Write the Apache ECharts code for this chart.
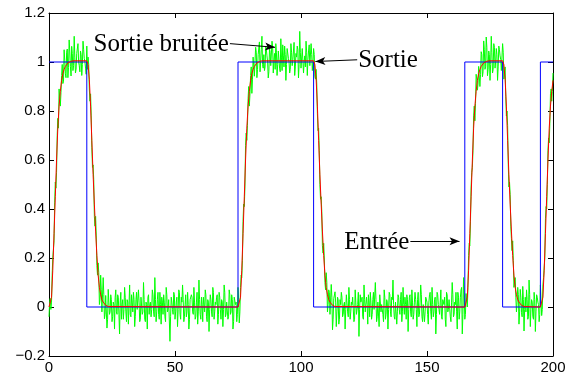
<!DOCTYPE html>
<html>
<head>
<meta charset="utf-8">
<script src="https://cdn.jsdelivr.net/npm/echarts/dist/echarts.min.js"></script>
<style>
  html, body { margin: 0; padding: 0; background: #ffffff; }
  #chart { width: 576px; height: 379px; }
</style>
</head>
<body>
<div id="chart"></div>
<script>
// Input square wave (Entrée): breakpoints of the step signal
const inputT = [0, 15, 15, 75, 75, 105, 105, 165, 165, 180, 180, 195, 195, 200];
const inputY = [1, 1, 0, 0, 1, 1, 0, 0, 1, 1, 0, 0, 1, 1];

// Filtered output (Sortie): samples around each transition
const outputT = [
  0, 0.5, 1, 1.5, 2, 2.5, 3, 3.5, 4, 4.5, 5, 5.5, 6, 6.5, 7, 7.5, 8, 8.5, 9, 9.5, 10,
  15, 15.5, 16, 16.5, 17, 17.5, 18, 18.5, 19, 19.5, 20, 20.5, 21, 21.5, 22, 22.5, 23, 23.5, 24,
  75, 75.5, 76, 76.5, 77, 77.5, 78, 78.5, 79, 79.5, 80, 80.5, 81, 81.5, 82, 82.5, 83, 83.5, 84, 84.5, 85,
  105, 105.5, 106, 106.5, 107, 107.5, 108, 108.5, 109, 109.5, 110, 110.5, 111, 111.5, 112, 112.5, 113, 113.5, 114,
  165, 165.5, 166, 166.5, 167, 167.5, 168, 168.5, 169, 169.5, 170, 170.5, 171, 171.5, 172, 172.5, 173, 173.5, 174, 174.5, 175,
  180, 180.5, 181, 181.5, 182, 182.5, 183, 183.5, 184, 184.5, 185, 185.5, 186, 186.5, 187, 187.5, 188, 188.5, 189,
  195, 195.5, 196, 196.5, 197, 197.5, 198, 198.5, 199, 199.5, 200
];
const outputY = [
  0, 0.005, 0.04, 0.15, 0.30, 0.45, 0.60, 0.73, 0.82, 0.88, 0.925, 0.952, 0.97, 0.982, 0.99, 0.996, 1.0, 1.002, 1.004, 1.005, 1.005,
  1.005, 0.99, 0.93, 0.82, 0.68, 0.54, 0.42, 0.31, 0.21, 0.13, 0.08, 0.05, 0.03, 0.02, 0.012, 0.007, 0.004, 0.002, 0,
  0, 0.005, 0.04, 0.15, 0.30, 0.45, 0.60, 0.73, 0.82, 0.88, 0.925, 0.952, 0.97, 0.982, 0.99, 0.996, 1.0, 1.002, 1.004, 1.005, 1.005,
  1.005, 0.99, 0.93, 0.82, 0.68, 0.54, 0.42, 0.31, 0.21, 0.13, 0.08, 0.05, 0.03, 0.02, 0.012, 0.007, 0.004, 0.002, 0,
  0, 0.005, 0.04, 0.15, 0.30, 0.45, 0.60, 0.73, 0.82, 0.88, 0.925, 0.952, 0.97, 0.982, 0.99, 0.996, 1.0, 1.002, 1.004, 1.005, 1.005,
  1.005, 0.99, 0.93, 0.82, 0.68, 0.54, 0.42, 0.31, 0.21, 0.13, 0.08, 0.05, 0.03, 0.02, 0.012, 0.007, 0.004, 0.002, 0,
  0, 0.005, 0.04, 0.15, 0.30, 0.45, 0.60, 0.73, 0.82, 0.88, 0.925
];

// Noisy output (Sortie bruitée): recorded every 0.25 time units from t = 0
const noisyStart = 0;
const noisyStep = 0.25;
const noisyOutput = [
  // t = 0 .. 10
  -0.04, 0.02, 0.035, -0.01, 0.02, 0.13, 0.20, 0.195, 0.27, 0.425, 0.51, 0.485, 0.55, 0.70, 0.77, 0.73, 0.89, 0.893, 0.82, 0.875,
  0.945, 0.99, 0.912, 0.922, 1.05, 1.007, 0.952, 0.936, 1.04, 1.053, 0.936, 0.978, 1.09, 1.041, 0.982, 0.943, 1.064, 1.034, 0.965, 0.985, 1.105,
  // t = 10.25 .. 15
  1.02, 0.955, 0.97, 1.035, 1.04, 1.075, 1.0, 0.985, 0.96, 1.045, 1.03, 0.945, 0.99, 1.085, 1.05, 1.015, 1.0, 0.975, 0.95, 1.065,
  // t = 15.25 .. 24
  0.97, 1.02, 0.99, 0.89, 0.84, 0.87, 0.78, 0.65, 0.57, 0.58, 0.52, 0.37, 0.33, 0.37, 0.29, 0.17, 0.13, 0.18,
  0.14, 0.01, 0.03, 0.13, 0.07, -0.02, -0.02, 0.12, 0.05, -0.048, -0.03, 0.047, 0.04, -0.086, -0.05, 0.072, 0.02, -0.03,
  // t = 24.25 .. 75
  -0.02, 0.05, 0.03, -0.06, -0.04, 0.02, 0.01, -0.09, 0.04, 0.07, -0.02, -0.03, 0.05, 0.04, -0.03, -0.11, 0.02, 0.06, -0.05, 0.01,
  0.03, -0.05, -0.01, 0.08, 0.04, -0.02, -0.06, 0.03, 0.02, -0.07, 0.01, 0.09, -0.03, -0.04, 0.05, 0.02, -0.02, 0.06, 0.03, -0.08,
  -0.04, 0.03, 0.06, -0.01, -0.01, 0.07, 0.02, -0.06, -0.05, 0.04, 0.04, -0.03, -0.02, 0.1, 0.03, -0.05, -0.06, 0.02, 0.01, -0.09,
  0.04, 0.05, -0.03, 0.01, 0.02, -0.04, -0.01, 0.07, 0.05, -0.02, -0.04, 0.12, 0.03, -0.06, -0.02, 0.03, 0.06, -0.03, -0.05, 0.06,
  0.01, -0.07, 0.04, 0.02, -0.03, 0.05, 0.02, -0.04, -0.06, 0.08, 0.05, -0.02, -0.01, 0.03, 0.03, -0.14, -0.04, 0.04, 0.02, -0.01,
  -0.03, 0.06, 0.05, -0.05, -0.02, 0.02, 0.04, -0.08, -0.01, 0.07, 0.06, -0.03, -0.05, 0.04, 0.02, 0.09, 0.03, -0.06, -0.04, 0.01,
  0.05, -0.04, -0.02, 0.06, 0.01, -0.09, -0.05, 0.03, 0.03, 0.05, 0.04, -0.02, -0.03, 0.08, 0.02, -0.05, -0.04, 0.02, 0.06, -0.07,
  -0.02, 0.11, 0.03, -0.03, -0.05, 0.04, 0.01, -0.06, 0.04, 0.01, -0.02, 0.07, 0.05, -0.04, -0.06, 0.03, 0.02, -0.1, -0.01, 0.05,
  0.03, -0.02, -0.04, 0.08, 0.06, -0.05, -0.02, 0.02, 0.01, 0.04, 0.05, -0.07, -0.03, 0.06, 0.04, -0.01, -0.05, 0.03, 0.02, -0.08,
  -0.01, 0.09, 0.06, -0.04, -0.03, 0.02, 0.02, -0.05, -0.04, 0.07, 0.05, -0.03, -0.02, 0.05, 0.03, -0.09, -0.06, 0.04, 0.04, 0.01,
  0.02, -0.06, -0.03, 0.08,
  // t = 75.25 .. 85
  0.03, -0.065, -0.02, 0.08, 0.13, 0.12, 0.19, 0.35, 0.42, 0.41, 0.49, 0.66, 0.71, 0.68, 0.74, 0.85, 0.90, 0.82, 0.87, 0.945,
  0.98, 0.872, 0.93, 1.02, 1.02, 0.942, 0.95, 1.06, 1.04, 0.936, 0.97, 1.03, 1.03, 1.082, 0.96, 0.954, 1.05, 1.105, 0.99, 0.975,
  // t = 85.25 .. 105
  1.03, 0.965, 0.98, 1.065, 1.05, 1.025, 1.0, 0.935, 0.96, 1.055, 1.04, 0.985, 0.99, 1.085, 1.06, 0.955, 1.01, 1.035, 0.97, 1.075,
  1.04, 0.945, 0.99, 1.045, 1.05, 0.975, 0.96, 1.095, 1.02, 0.965, 1.07, 1.025, 0.98, 1.065, 1.03, 0.925, 0.99, 1.055, 1.06, 1.015,
  1.0, 0.955, 0.97, 1.075, 1.04, 0.985, 1.01, 1.045, 1.08, 0.945, 0.98, 1.035, 1.02, 1.065, 1.05, 0.935, 0.99, 1.125, 1.04, 0.975,
  0.97, 1.055, 1.06, 0.955, 1.0, 1.025, 0.98, 1.085, 1.04, 0.945, 1.01, 1.045, 1.07, 0.985, 0.98, 1.075, 1.03, 0.965, 1.0, 1.055,
  // t = 105.25 .. 114
  1.03, 0.94, 0.93, 0.97, 0.91, 0.79, 0.72, 0.73, 0.64, 0.50, 0.44, 0.45, 0.39, 0.25, 0.22, 0.26, 0.20, 0.10,
  0.07, 0.14, 0.10, -0.02, 0.01, 0.07, 0.06, -0.03, -0.03, 0.092, 0.04, -0.093, -0.05, 0.034, 0.03, 0.062, 0.02, -0.08,
  // t = 114.25 .. 165
  -0.02, 0.04, 0.03, -0.07, -0.05, 0.03, 0.01, 0.06, 0.04, -0.04, -0.03, 0.01, 0.02, -0.09, -0.01, 0.05, 0.05, -0.02, -0.04, 0.08,
  0.03, -0.05, -0.02, 0.02, 0.01, 0.04, 0.04, -0.06, -0.05, 0.07, 0.02, -0.03, -0.03, 0.01, 0.06, -0.12, -0.01, 0.05, 0.02, 0.03,
  0.04, -0.04, -0.05, 0.09, 0.03, -0.02, -0.02, 0.04, 0.01, -0.07, 0.05, 0.02, -0.04, 0.06, 0.02, -0.05, -0.03, 0.03, 0.06, -0.01,
  -0.01, 0.1, 0.03, -0.06, -0.04, 0.02, 0.02, -0.08, 0.05, 0.05, -0.02, 0.01, 0.01, -0.03, -0.06, 0.07, 0.04, -0.05, -0.03, 0.03,
  0.02, -0.09, -0.01, 0.06, 0.05, -0.02, -0.04, 0.04, 0.03, 0.11, 0.01, -0.04, -0.05, 0.02, 0.02, -0.07, -0.02, 0.05, 0.04, -0.01,
  -0.03, 0.03, 0.06, -0.06, -0.02, 0.08, 0.01, -0.03, 0.04, 0.01, -0.05, 0.05, 0.03, -0.1, -0.01, 0.04, 0.05, -0.02, -0.04, 0.07,
  0.02, -0.05, -0.03, 0.02, 0.06, 0.03, -0.01, -0.08, 0.03, 0.06, -0.04, -0.03, 0.02, 0.09, 0.05, -0.04, -0.06, 0.01, 0.01, -0.06,
  -0.02, 0.04, 0.04, 0.02, -0.03, -0.07, 0.02, 0.05, 0.06, -0.02, -0.05, 0.08, 0.01, -0.04, -0.02, 0.03, 0.04, -0.11, -0.03, 0.06,
  0.05, 0.01, -0.01, -0.03, 0.02, 0.07, -0.04, -0.05, 0.03, 0.02, 0.01, 0.04, -0.05, -0.08, 0.06, 0.05, -0.02, -0.01, 0.03, 0.03,
  -0.04, -0.06, 0.02, 0.1, 0.05, -0.04, -0.03, 0.02, 0.01, 0.06, -0.02, -0.09, 0.06, 0.04, -0.05, -0.02, 0.04, 0.07, 0.08, -0.11,
  -0.03, 0.12, 0.05, -0.05,
  // t = 165.25 .. 175
  -0.03, 0.055, 0.05, 0.0, 0.08, 0.21, 0.26, 0.25, 0.35, 0.49, 0.55, 0.57, 0.64, 0.78, 0.82, 0.76, 0.83, 0.95, 0.93, 0.885,
  0.91, 0.982, 0.99, 0.90, 0.95, 1.042, 1.03, 0.94, 0.96, 1.086, 1.05, 0.97, 0.98, 1.102, 1.06, 0.944, 0.97, 1.045, 1.03, 0.925,
  // t = 175.25 .. 180
  0.99, 1.105, 1.04, 0.955, 0.97, 1.075, 1.06, 0.975, 1.0, 1.055, 1.03, 0.925, 0.98, 1.065, 1.05, 1.025, 1.01, 0.965, 0.96, 1.075,
  // t = 180.25 .. 189
  1.04, 0.93, 0.95, 0.98, 0.86, 0.78, 0.80, 0.74, 0.58, 0.49, 0.51, 0.46, 0.33, 0.28, 0.23, 0.27, 0.19, 0.08,
  0.08, 0.12, 0.04, -0.02, 0.02, 0.08, 0.05, -0.07, -0.02, 0.072, 0.04, -0.023, -0.04, 0.084, 0.03, -0.098, -0.01, 0.04,
  // t = 189.25 .. 195
  -0.02, 0.07, 0.03, -0.05, -0.04, 0.11, 0.05, -0.08, -0.01, 0.03, 0.02, -0.04, -0.05, 0.06, 0.03, -0.1, -0.02, 0.05, 0.04, 0.02,
  0.01, -0.06, -0.03, 0.09,
  // t = 195.25 .. 200
  0.03, -0.035, -0.01, 0.09, 0.12, 0.12, 0.20, 0.36, 0.41, 0.40, 0.50, 0.64, 0.69, 0.67, 0.75, 0.87, 0.89, 0.84, 0.88, 0.955
];

// Axis ticks and their labels
const xTicks = [0, 50, 100, 150, 200];
const xTickLabels = ['0', '50', '100', '150', '200'];
const yTicks = [-0.2, 0, 0.2, 0.4, 0.6, 0.8, 1, 1.2];
const yTickLabels = ['\u22120.2', '0', '0.2', '0.4', '0.6', '0.8', '1', '1.2'];

// Text arrows: label, arrow tail and arrow head in data units
const noteLabels = ['Sortie bruitée', 'Sortie', 'Entrée'];
const noteTails = [[71.8, 1.075], [122.3, 1.009], [143.4, 0.268]];
const noteHeads = [[89.7, 1.06], [105.7, 1.002], [162.9, 0.268]];
const noteSides = ['left', 'right', 'left'];

const sansFont = '"Liberation Sans", Arial, Helvetica, sans-serif';
const serifFont = '"Liberation Serif", "Times New Roman", Times, serif';

function nearestLabel(ticks, labels, v) {
  let best = 0;
  for (let i = 1; i < ticks.length; i++) {
    if (Math.abs(ticks[i] - v) < Math.abs(ticks[best] - v)) best = i;
  }
  return labels[best];
}

const inputData = inputT.map((t, i) => [t, inputY[i]]);
const outputData = outputT.map((t, i) => [t, outputY[i]]);
const noisyData = noisyOutput.map((v, i) => [noisyStart + i * noisyStep, v]);

const boxLine = { show: true, onZero: false, lineStyle: { color: '#000', width: 1 } };
const boxTick = { show: true, inside: true, length: 5, lineStyle: { color: '#000', width: 1 } };

function xAxisDef(position, showLabels) {
  return {
    type: 'value', position: position, min: 0, max: 200, interval: 50,
    axisLine: boxLine, axisTick: boxTick, splitLine: { show: false },
    axisLabel: {
      show: showLabels, color: '#000', fontSize: 15, fontFamily: sansFont, margin: 4,
      formatter: v => nearestLabel(xTicks, xTickLabels, v)
    }
  };
}
function yAxisDef(position, showLabels) {
  return {
    type: 'value', position: position, min: -0.2, max: 1.2, interval: 0.2,
    axisLine: boxLine, axisTick: boxTick, splitLine: { show: false },
    axisLabel: {
      show: showLabels, color: '#000', fontSize: 15, fontFamily: sansFont, margin: 4,
      formatter: v => nearestLabel(yTicks, yTickLabels, v)
    }
  };
}

const chart = echarts.init(document.getElementById('chart'), null, { renderer: 'canvas' });

const arrowLines = noteTails.map((tail, i) => [
  { coord: tail, symbol: 'none' },
  { coord: noteHeads[i], symbol: 'arrow' }
]);

chart.setOption({
  animation: false,
  backgroundColor: '#ffffff',
  grid: { left: 49, right: 23, top: 13, bottom: 23, containLabel: false },
  xAxis: [xAxisDef('bottom', true), xAxisDef('top', false)],
  yAxis: [yAxisDef('left', true), yAxisDef('right', false)],
  series: [
    {
      name: 'Sortie bruitée', type: 'line', data: noisyData, showSymbol: false, silent: true,
      lineStyle: { color: '#00ff00', width: 1 }, z: 2
    },
    {
      name: 'Entrée', type: 'line', data: inputData, showSymbol: false, silent: true,
      lineStyle: { color: '#0000ff', width: 1 }, z: 3
    },
    {
      name: 'Sortie', type: 'line', data: outputData, showSymbol: false, silent: true,
      lineStyle: { color: '#ff0000', width: 1 }, z: 4,
      markLine: {
        silent: true, animation: false,
        symbolSize: [6, 10],
        label: { show: false },
        lineStyle: { color: '#000', width: 1, type: 'solid' },
        emphasis: { disabled: true },
        data: arrowLines
      }
    }
  ]
});

// Place the annotation texts next to each arrow tail
const graphics = noteLabels.map((label, i) => {
  const p = chart.convertToPixel({ xAxisIndex: 0, yAxisIndex: 0 }, noteTails[i]);
  const left = noteSides[i] === 'left';
  return {
    type: 'text',
    x: left ? p[0] - 1 : p[0] + 1,
    y: p[1] + 1,
    z: 10,
    style: {
      text: label,
      fill: '#000',
      fontSize: 25,
      fontFamily: serifFont,
      textAlign: left ? 'right' : 'left',
      textVerticalAlign: 'middle'
    }
  };
});
chart.setOption({ graphic: graphics });
</script>
</body>
</html>
